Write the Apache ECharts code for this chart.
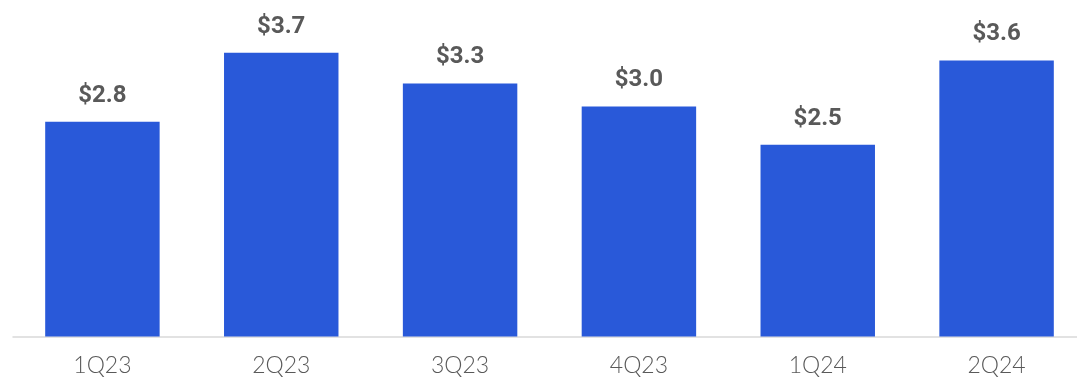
<!DOCTYPE html>
<html>
<head>
<meta charset="utf-8">
<script src="https://cdn.jsdelivr.net/npm/echarts@6/dist/echarts.min.js"></script>
<style>html,body{margin:0;padding:0;background:#fff;}#c{width:1077px;height:380px;}</style>
</head>
<body>
<div id="c"></div>
<script>
const categories = ['1Q23', '2Q23', '3Q23', '4Q23', '1Q24', '2Q24'];
const values = [2.8, 3.7, 3.3, 3.0, 2.5, 3.6];

const chart = echarts.init(document.getElementById('c'), null, {renderer: 'canvas'});
chart.setOption({
  animation: false,
  grid: {left: 13, width: 1073, top: 29.7, height: 306.8, containLabel: false, outerBoundsMode: 'none'},
  xAxis: {
    type: 'category',
    data: categories,
    axisLine: {show: true, lineStyle: {color: '#d9d9d9', width: 1.5}},
    axisTick: {show: false},
    axisLabel: {color: '#595959', fontFamily: 'Lato', fontWeight: 300, fontSize: 23, margin: 18}
  },
  yAxis: {
    type: 'value', min: 0, max: 4,
    show: false,
    splitLine: {show: false}
  },
  series: [{
    type: 'bar',
    data: values,
    barWidth: '64%',
    itemStyle: {color: '#2959d9'},
    label: {
      show: true, position: 'top', distance: 14,
      formatter: p => '$' + p.value.toFixed(1),
      color: '#595959', fontFamily: 'Roboto', fontWeight: 'bold', fontSize: 24
    }
  }]
});
</script>
</body>
</html>
